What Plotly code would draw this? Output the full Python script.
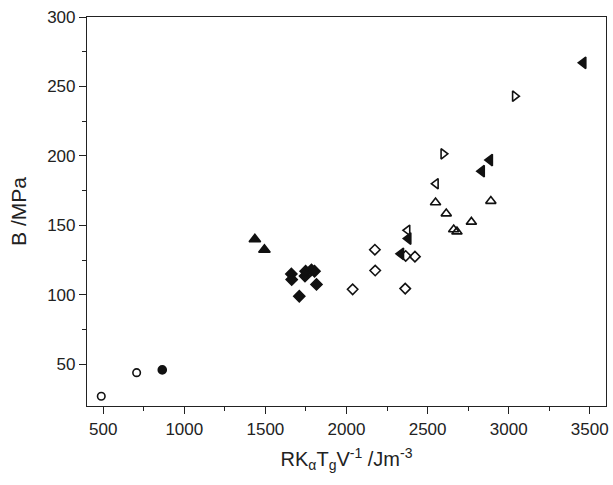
import plotly.graph_objects as go

# Data series (x = R*K_alpha*Tg/V in J m^-3, y = B in MPa)
open_circle_x = [488, 706]
open_circle_y = [27, 44]

filled_circle_x = [864]
filled_circle_y = [46]

filled_tri_up_x = [1435, 1494]
filled_tri_up_y = [140, 132.5]

filled_diamond_x = [1660, 1662, 1709, 1744, 1748, 1784, 1803, 1815]
filled_diamond_y = [115, 111, 99, 113.5, 117, 118, 117, 107.5]

open_diamond_x = [2038, 2175, 2177, 2362, 2365, 2422]
open_diamond_y = [104, 132.5, 117.5, 104.5, 128, 127.5]

filled_tri_left_x = [2336, 2381, 2834, 2884, 3460]
filled_tri_left_y = [129.5, 140.5, 189, 197, 267]

open_tri_left_x = [2376, 2551]
open_tri_left_y = [146.5, 180]

open_tri_right_x = [2597, 3038]
open_tri_right_y = [201.5, 243]

open_tri_up_x = [2549, 2615, 2661, 2681, 2770, 2890]
open_tri_up_y = [166.5, 158.5, 147, 145.5, 152.5, 167.5]

x_tick_vals = [500, 1000, 1500, 2000, 2500, 3000, 3500]
y_tick_vals = [50, 100, 150, 200, 250, 300]
x_minor_vals = [750, 1250, 1750, 2250, 2750, 3250]
y_minor_vals = [75, 125, 175, 225, 275]

series = [
    (open_circle_x, open_circle_y, "circle-open", 7.5),
    (filled_circle_x, filled_circle_y, "circle", 8),
    (filled_tri_up_x, filled_tri_up_y, "triangle-up", 10),
    (filled_diamond_x, filled_diamond_y, "diamond", 8.5),
    (open_diamond_x, open_diamond_y, "diamond-open", 8),
    (filled_tri_left_x, filled_tri_left_y, "triangle-left", 10),
    (open_tri_left_x, open_tri_left_y, "triangle-left-open", 9),
    (open_tri_right_x, open_tri_right_y, "triangle-right-open", 9),
    (open_tri_up_x, open_tri_up_y, "triangle-up-open", 9),
]

fig = go.Figure()
for xs, ys, sym, sz in series:
    fig.add_trace(go.Scatter(
        x=xs, y=ys, mode="markers",
        marker=dict(symbol=sym, size=sz, color="#111111",
                    line=dict(color="#111111", width=1.6)),
        showlegend=False,
    ))

font_family = "Liberation Sans, Arial, sans-serif"
axis_common = dict(
    showline=True, linecolor="#222222", linewidth=1.2, mirror=True,
    ticks="outside", ticklen=7, tickwidth=1.2, tickcolor="#222222",
    showgrid=False, zeroline=False,
    tickfont=dict(family=font_family, size=17, color="#222222"),
)

fig.update_layout(
    width=613, height=485,
    margin=dict(l=87, r=4, t=17, b=79),
    paper_bgcolor="white", plot_bgcolor="white",
    font=dict(family=font_family, color="#222222"),
    xaxis=dict(
        range=[400, 3600], tickmode="array", tickvals=x_tick_vals,
        minor=dict(tickmode="array", tickvals=x_minor_vals, ticks="outside",
                   ticklen=4, tickwidth=1.2, tickcolor="#222222"),
        title=dict(text="RK<sub>α</sub>T<sub>g</sub>V<sup>-1</sup> /Jm<sup>-3</sup>",
                   font=dict(family=font_family, size=20, color="#222222"),
                   standoff=14),
        **axis_common,
    ),
    yaxis=dict(
        range=[20, 300], tickmode="array", tickvals=y_tick_vals,
        minor=dict(tickmode="array", tickvals=y_minor_vals, ticks="outside",
                   ticklen=4, tickwidth=1.2, tickcolor="#222222"),
        title=dict(text="B /MPa",
                   font=dict(family=font_family, size=21, color="#222222"),
                   standoff=14),
        **axis_common,
    ),
)

fig.write_html("out.html")
